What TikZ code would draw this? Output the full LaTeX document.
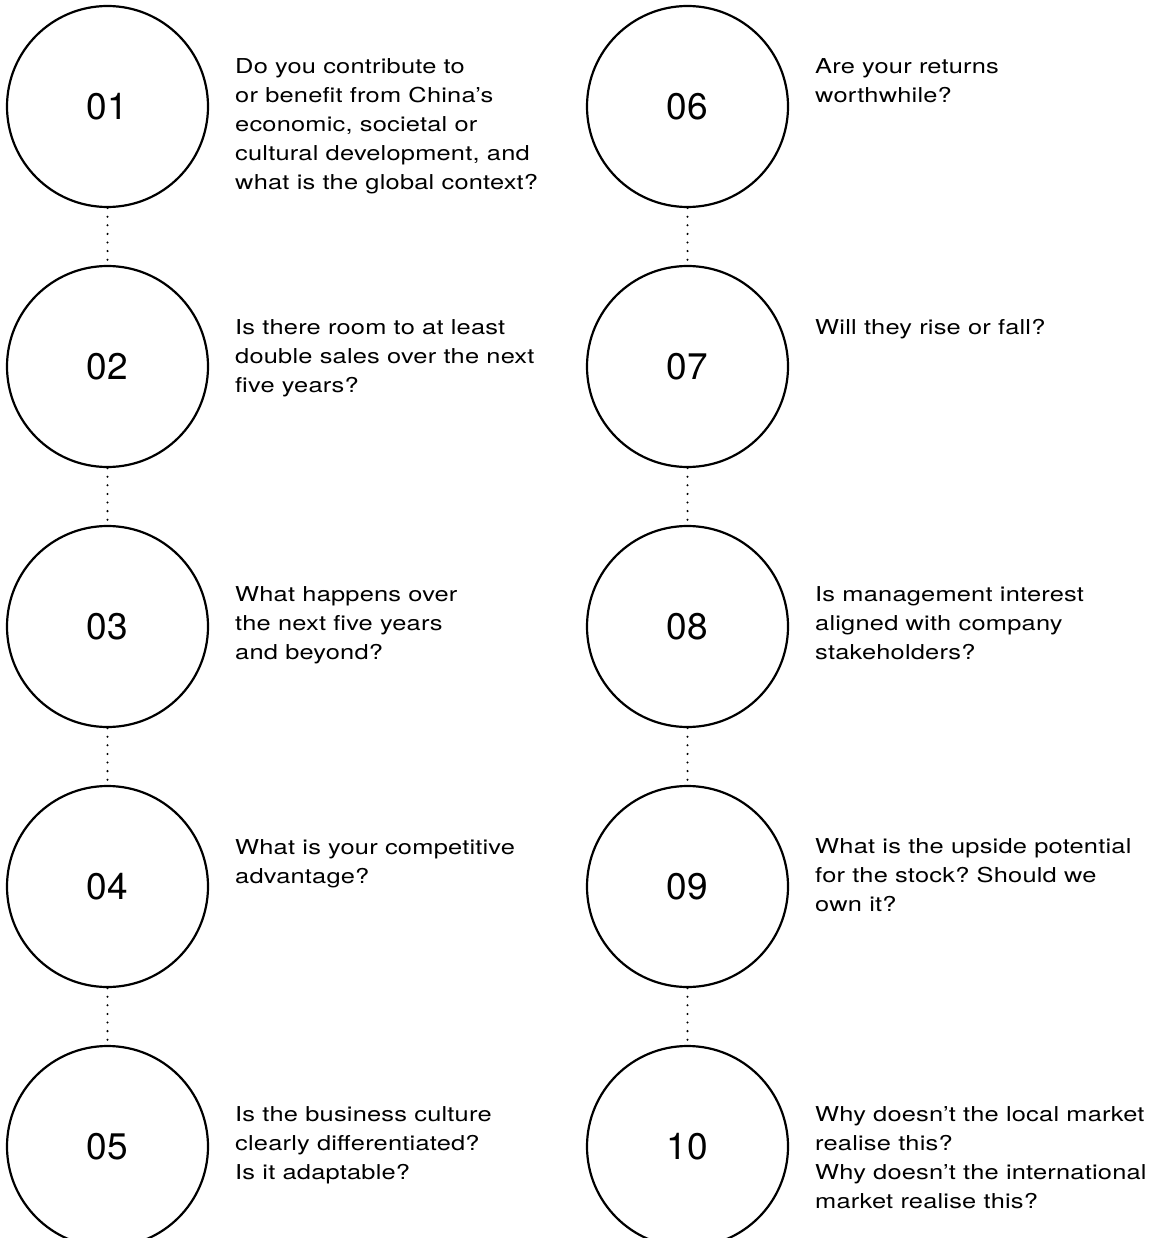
\documentclass[tikz,border=0pt]{standalone}
\usepackage{fontspec}
\setmainfont{TeX Gyre Heros}[FakeStretch=1.24,LetterSpace=1]
\newfontfamily\numberfont{TeX Gyre Heros}
\frenchspacing

\begin{document}
\begin{tikzpicture}[x=1pt, y=-1pt,
    stepcircle/.style={circle, draw, line width=2.2pt, minimum size=201pt, inner sep=0pt,
        font=\numberfont\fontsize{37}{37}\selectfont},
    question/.style={anchor=base west, inner sep=0pt,
        font=\fontsize{20.5}{29}\selectfont},
    link/.style={line width=2.3pt, line cap=round, dash pattern=on 0pt off 8.6pt}]
                \useasboundingbox (0,0) rectangle (1161,1238);
                \clip (0,0) rectangle (1161,1238);
                \foreach \i in {1,...,10} {
                    \pgfmathtruncatemacro{\col}{(\i-1)/5}
                    \pgfmathtruncatemacro{\row}{mod(\i-1,5)}
                    \node[stepcircle] (Q\i) at (107.5+580*\col, 106.5+260*\row) {\ifnum\i<10 0\fi\i};
                }
                % first baseline sits \dy above the circle centre
                \foreach \i/\dy/\txt in {
                    1/32.5/{Do you contribute to\\or benefit from China’s\\economic, societal or\\cultural development, and\\what is the global context?},
                    2/32.5/{Is there room to at least\\double sales over the next\\five years?},
                    3/25.5/{What happens over\\the next five years\\and beyond?},
                    4/32.5/{What is your competitive\\advantage?},
                    5/25.5/{Is the business culture\\clearly differentiated?\\Is it adaptable?},
                    6/32.5/{Are your returns\\worthwhile?},
                    7/32.5/{Will they rise or fall?},
                    8/25.5/{Is management interest\\aligned with company\\stakeholders?},
                    9/33.5/{What is the upside potential\\for the stock? Should we\\own it?},
                    10/25.5/{Why doesn’t the local market\\realise this?\\Why doesn’t the international\\market realise this?}} {
                    \node[question] (T\i) at ([xshift=127.5pt, yshift=\dy pt]Q\i.center)
                        {\begin{tabular}[t]{@{}l@{}}\txt\end{tabular}};
                }
                \foreach \i in {1,...,4,6,7,8,9} {
                    \pgfmathtruncatemacro{\next}{\i+1}
                    \draw[link] (Q\i) -- (Q\next);
                }
            \end{tikzpicture}
\end{document}
